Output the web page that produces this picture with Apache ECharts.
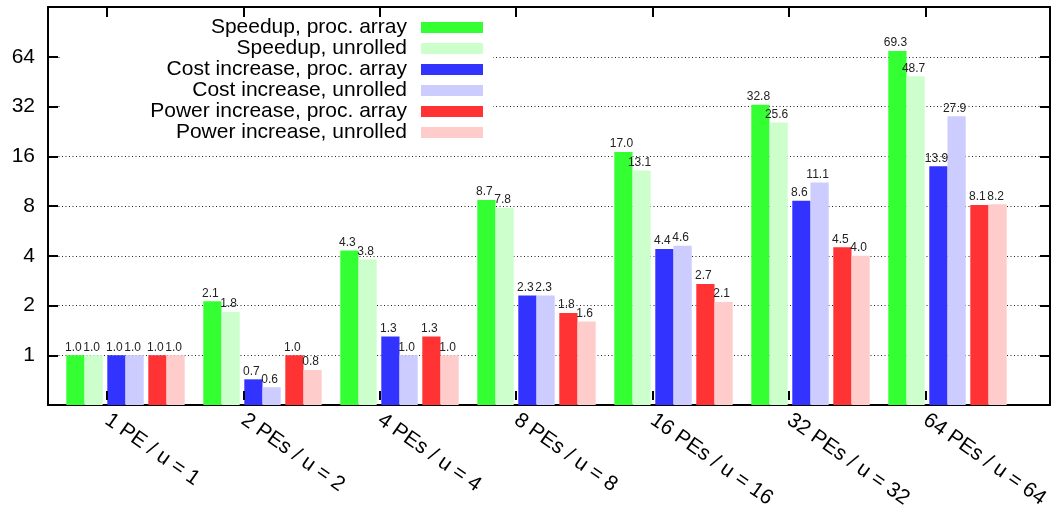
<!DOCTYPE html>
<html>
<head>
<meta charset="utf-8">
<script src="https://cdn.jsdelivr.net/npm/echarts@6/dist/echarts.min.js"></script>
<style>html,body{margin:0;padding:0;background:#fff;}#c{width:1052px;height:511px;}</style>
</head>
<body>
<div id="c"></div>
<script>
const categories = ['1 PE / u = 1','2 PEs / u = 2','4 PEs / u = 4','8 PEs / u = 8','16 PEs / u = 16','32 PEs / u = 32','64 PEs / u = 64'];
const seriesNames = ['Speedup, proc. array','Speedup, unrolled','Cost increase, proc. array','Cost increase, unrolled','Power increase, proc. array','Power increase, unrolled'];
const speedupProc     = [1.0, 2.12, 4.3, 8.7, 17.0, 32.8, 69.3];
const speedupUnrolled = [1.0, 1.83, 3.8, 7.8, 13.1, 25.6, 48.7];
const costProc        = [1.0, 0.715, 1.3, 2.3, 4.4, 8.6, 13.9];
const costUnrolled    = [1.0, 0.64, 1.0, 2.3, 4.6, 11.1, 27.9];
const powerProc       = [1.0, 1.0, 1.3, 1.8, 2.7, 4.5, 8.1];
const powerUnrolled   = [1.0, 0.815, 1.0, 1.6, 2.1, 4.0, 8.2];
const yTickLabels = [1, 2, 4, 8, 16, 32, 64];
const colors = ['#33ff33','#ccffcc','#3333ff','#ccccff','#ff3333','#ffcccc'];

const allValues = [speedupProc, speedupUnrolled, costProc, costUnrolled, powerProc, powerUnrolled];
// axis works in log2 space, shifted so that 0.5 is the baseline
const toAxis = v => Math.log2(v) + 1;
const FONT = 'Liberation Sans';

const series = [];
allValues.forEach((arr, i) => {
  series.push({
    name: seriesNames[i], type: 'bar', xAxisIndex: 2, yAxisIndex: 2,
    barWidth: 18.2, barGap: '0%',
    itemStyle: {color: colors[i]},
    label: {show: true, position: 'top', distance: 2, offset: [-2, 0], fontSize: 12, fontFamily: FONT, color: '#222',
            formatter: p => arr[p.dataIndex].toFixed(1)},
    data: arr.map(toAxis)
  });
  if (i === 1 || i === 3) {
    series.push({name: '_gap' + i, type: 'bar', xAxisIndex: 2, yAxisIndex: 2, barWidth: 4.6, barGap: '0%',
                 data: categories.map(() => null), silent: true});
  }
});

const yScale = {type: 'value', min: 0, max: 8, interval: 1};
const frameLine = {show: true, onZero: false, lineStyle: {color: '#000', width: 2}};
const hiddenLine = {show: false, onZero: false};
const xTick = {show: true, inside: true, length: 9, lineStyle: {color: '#000', width: 2}};
const yTick = {show: true, inside: true, length: 10, lineStyle: {color: '#000', width: 2}};
const chart = echarts.init(document.getElementById('c'));
chart.setOption({
  animation: false,
  backgroundColor: '#fff',
  textStyle: {fontFamily: FONT},
  grid: [
    {left: 48, right: 2, top: 7, bottom: 106},
    {left: 57, width: 959, top: 7, bottom: 106},
    {left: 107, width: 822, top: 7, bottom: 106}
  ],
  legend: {
    data: seriesNames, orient: 'vertical', align: 'right', right: 559, top: 16,
    padding: [1, 10, 8, 90], backgroundColor: '#fff', itemGap: 0, itemWidth: 62, itemHeight: 11,
    icon: 'rect',
    textStyle: {fontSize: 21, lineHeight: 21, fontFamily: FONT, color: '#000', padding: [0, 9, 0, 0]}
  },
  xAxis: [
    {gridIndex: 0, type: 'value', min: 0, max: 1, position: 'bottom', axisLine: frameLine, axisTick: {show: false}, axisLabel: {show: false}, splitLine: {show: false}},
    {gridIndex: 0, type: 'value', min: 0, max: 1, position: 'top', axisLine: frameLine, axisTick: {show: false}, axisLabel: {show: false}, splitLine: {show: false}},
    {gridIndex: 1, type: 'category', data: categories, show: false},
    {gridIndex: 2, type: 'value', min: 0, max: 6, interval: 1, position: 'bottom', z: 5,
     axisLine: hiddenLine, axisTick: xTick,
     axisLabel: {rotate: -35, margin: 18, fontSize: 21, fontFamily: FONT, color: '#000', formatter: v => categories[v] || ''},
     splitLine: {show: false}},
    {gridIndex: 2, type: 'value', min: 0, max: 6, interval: 1, position: 'top', z: 5,
     axisLine: hiddenLine, axisTick: xTick,
     axisLabel: {show: true, color: 'rgba(0,0,0,0)', formatter: () => ''}, splitLine: {show: false}}
  ],
  yAxis: [
    Object.assign({gridIndex: 0, position: 'left',
      axisLine: frameLine, axisTick: yTick,
      axisLabel: {fontSize: 21, fontFamily: FONT, color: '#000', margin: 13,
                  formatter: v => (v >= 1 && v <= yTickLabels.length) ? String(yTickLabels[v - 1]) : ''},
      splitLine: {show: true, lineStyle: {color: '#222', width: 1, type: [1, 2.5]}}}, yScale),
    Object.assign({gridIndex: 0, position: 'right',
      axisLine: frameLine, axisTick: yTick,
      axisLabel: {show: false}, splitLine: {show: false}}, yScale),
    Object.assign({gridIndex: 1, show: false, splitLine: {show: false}}, yScale),
    Object.assign({gridIndex: 2, show: false, splitLine: {show: false}}, yScale)
  ],
  series: series
});
</script>
</body>
</html>
